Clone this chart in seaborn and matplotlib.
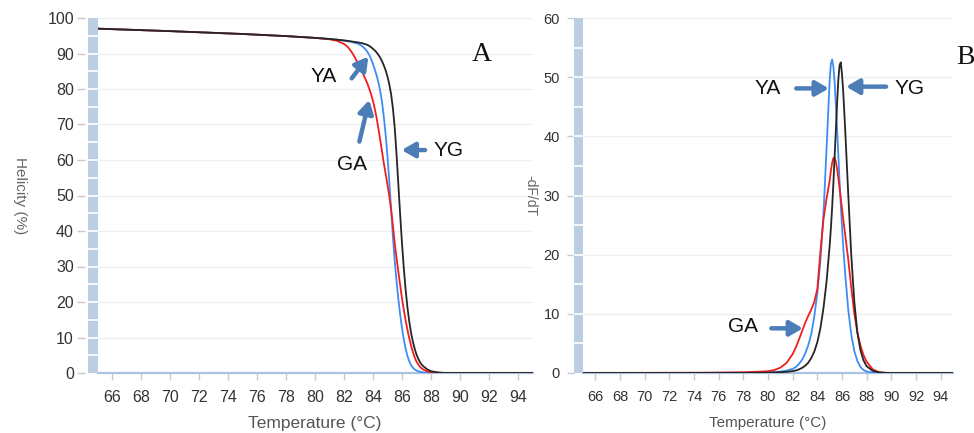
import numpy as np
import pandas as pd
import matplotlib
matplotlib.use("Agg")
import matplotlib.pyplot as plt
import matplotlib.transforms as mtransforms
from matplotlib.patches import Rectangle
import seaborn as sns

# ---------------- data ----------------
series_names = ["YA", "GA", "YG"]
series_colors = {"YA": "#3d8ef2", "GA": "#f21d1d", "YG": "#262626"}

temp_melt = [65, 70, 75, 78, 80, 81, 81.5, 82, 82.25, 82.5, 82.75, 83, 83.25,
             83.5, 83.625, 83.75, 83.875, 84, 84.125, 84.25, 84.375, 84.5, 84.625,
             84.75, 84.875, 85, 85.125, 85.25, 85.375, 85.5, 85.625, 85.75, 85.875,
             86, 86.125, 86.25, 86.375, 86.5, 86.625, 86.75, 86.875, 87, 87.125,
             87.25, 87.375, 87.5, 87.75, 88, 88.5, 89, 90, 95]
helicity_YA = [97.0, 96.3, 95.5, 94.9, 94.4, 94.1, 93.9, 93.6, 93.45, 93.3, 93.0, 92.7, 92.1,
               91.1, 90.4, 89.5, 88.4, 87.0, 85.5, 83.8, 81.8, 79.4, 76.2,
               72.0, 67.0, 61.0, 53.8, 46.0, 38.3, 31.5, 25.8, 20.8, 16.4,
               12.6, 9.4, 6.8, 4.8, 3.3, 2.2, 1.5, 1.0, 0.7, 0.5,
               0.35, 0.25, 0.15, 0.05, 0.0, 0.0, 0.0, 0.0, 0.0]
helicity_GA = [97.0, 96.3, 95.5, 94.9, 94.4, 94.0, 93.6, 92.7, 91.9, 90.6, 88.9, 86.8, 84.8,
               82.6, 81.4, 80.0, 78.4, 76.6, 74.4, 71.8, 68.8, 65.6, 62.3,
               59.0, 56.0, 53.0, 49.8, 46.0, 41.5, 36.5, 32.3, 28.5, 24.7,
               21.0, 17.8, 14.8, 12.2, 9.8, 7.7, 5.9, 4.4, 3.2, 2.4,
               1.7, 1.25, 0.9, 0.45, 0.2, 0.05, 0.0, 0.0, 0.0]
helicity_YG = [97.0, 96.3, 95.5, 94.9, 94.4, 94.1, 93.9, 93.7, 93.55, 93.4, 93.25, 93.1, 92.9,
               92.6, 92.4, 92.1, 91.75, 91.3, 90.85, 90.3, 89.6, 88.8, 87.8,
               86.6, 85.2, 83.5, 81.3, 78.5, 74.5, 69.0, 61.5, 53.0, 44.5,
               36.5, 29.5, 23.5, 18.5, 14.5, 11.3, 8.8, 6.8, 5.2, 4.0,
               3.0, 2.3, 1.8, 1.0, 0.5, 0.15, 0.0, 0.0, 0.0]

temp_deriv = [65, 75, 78, 79, 80, 80.5, 81, 81.5, 82, 82.25, 82.5, 82.75, 83, 83.25, 83.5,
              83.75, 84, 84.25, 84.5, 84.75, 85, 85.1, 85.2, 85.3, 85.4, 85.5, 85.6, 85.7,
              85.8, 85.9, 86, 86.1, 86.25, 86.5, 86.75, 87, 87.25, 87.5, 87.75, 88, 88.5,
              89, 89.5, 90, 95]
dfdt_YA = [0.0, 0.02, 0.05, 0.08, 0.12, 0.17, 0.25, 0.4, 0.7, 1.0, 1.5, 2.2, 3.2, 4.6, 6.5,
           9.5, 13.5, 19.0, 27.0, 38.0, 49.5, 52.3, 53.0, 51.8, 49.2, 45.5, 41.3, 37.0,
           32.5, 28.5, 24.8, 21.3, 17.0, 10.8, 6.5, 3.7, 2.0, 1.0, 0.5, 0.25, 0.06,
           0.0, 0.0, 0.0, 0.0]
dfdt_GA = [0.0, 0.05, 0.12, 0.2, 0.3, 0.5, 0.9, 1.7, 3.2, 4.3, 5.6, 7.0, 8.4, 9.6, 10.7,
           12.0, 14.2, 20.5, 26.0, 29.5, 32.5, 34.2, 35.5, 36.3, 36.4, 35.7, 34.5, 33.0,
           31.3, 29.5, 27.8, 26.0, 23.5, 19.3, 14.5, 10.0, 6.8, 4.6, 3.0, 1.9, 0.6,
           0.15, 0.03, 0.0, 0.0]
dfdt_YG = [0.0, 0.01, 0.02, 0.04, 0.06, 0.09, 0.13, 0.2, 0.32, 0.42, 0.6, 0.85, 1.2, 1.7,
           2.5, 3.6, 5.2, 7.6, 11.0, 15.5, 21.5, 24.5, 28.0, 32.0, 36.5, 41.0, 45.5, 49.5,
           52.0, 52.5, 50.5, 47.5, 41.5, 30.5, 20.0, 12.0, 6.8, 3.8, 2.1, 1.15, 0.35,
           0.1, 0.03, 0.0, 0.0]

x_ticks = list(range(66, 96, 2))
yticks_melt = list(range(0, 101, 10))
yticks_deriv = list(range(0, 61, 10))

melt_df = pd.DataFrame({
    "Temperature": temp_melt * 3,
    "Helicity": helicity_YA + helicity_GA + helicity_YG,
    "Sample": ["YA"] * len(temp_melt) + ["GA"] * len(temp_melt) + ["YG"] * len(temp_melt),
})
deriv_df = pd.DataFrame({
    "Temperature": temp_deriv * 3,
    "dFdT": dfdt_YA + dfdt_GA + dfdt_YG,
    "Sample": ["YA"] * len(temp_deriv) + ["GA"] * len(temp_deriv) + ["YG"] * len(temp_deriv),
})

# ---------------- style ----------------
sns.set_theme(style="white")
plt.rcParams["font.family"] = ["Liberation Sans", "DejaVu Sans"]

W, H = 974, 433
fig = plt.figure(figsize=(W / 100, H / 100), dpi=100)

def px_axes(x0, x1, y0, y1):
    return fig.add_axes([x0 / W, 1 - y1 / H, (x1 - x0) / W, (y1 - y0) / H])

axA = px_axes(97.5, 532.5, 18, 373)
axB = px_axes(583, 953, 18, 373)

BAR = "#bccfe2"
ARROW = "#4d7db7"
TICKC = "#c9c9c9"
GRID = "#efefef"

def style_axis(ax, ymax, yticks, ystep_minor, bar_px, out_pt, ticklen, pad, tick_fs):
    ax.set_xlim(65, 95)
    ax.set_ylim(0, ymax)
    ax.set_xticks(x_ticks)
    ax.set_xticklabels([str(t) for t in x_ticks])
    ax.set_yticks(yticks)
    ax.set_yticklabels([str(t) for t in yticks])
    for s in ["top", "right"]:
        ax.spines[s].set_visible(False)
    ax.spines["left"].set_position(("outward", out_pt))
    ax.spines["left"].set_color("none")
    ax.spines["bottom"].set_color("#aac3df")
    ax.spines["bottom"].set_linewidth(1.6)
    ax.tick_params(axis="y", length=ticklen, width=1.0, color=TICKC, pad=pad,
                   labelsize=tick_fs, labelcolor="#333333", direction="out", left=True)
    ax.tick_params(axis="x", length=5, width=1.0, color=TICKC, pad=7,
                   labelsize=tick_fs, labelcolor="#333333", direction="out", bottom=True)
    ax.grid(axis="y", color=GRID, linewidth=0.9)
    ax.set_axisbelow(True)
    # blue bar along the y axis
    axw = ax.get_position().width * W
    w = bar_px / axw
    trans = mtransforms.blended_transform_factory(ax.transAxes, ax.transData)
    ax.add_patch(Rectangle((-w, 0), w, ymax, transform=trans, facecolor=BAR,
                           edgecolor="none", clip_on=False, zorder=3))
    for v in np.arange(ystep_minor, ymax, ystep_minor):
        ax.plot([-w, 0], [v, v], transform=trans, color="white", lw=1.2,
                clip_on=False, zorder=4)

style_axis(axA, 100, yticks_melt, 5, 10, 9, 6, 2, 11.5)
style_axis(axB, 60, yticks_deriv, 5, 9, 6.5, 5, 5, 10.5)

sns.lineplot(data=melt_df, x="Temperature", y="Helicity", hue="Sample",
             hue_order=series_names, palette=series_colors, estimator=None,
             linewidth=1.3, legend=False, ax=axA, zorder=5)
sns.lineplot(data=deriv_df, x="Temperature", y="dFdT", hue="Sample",
             hue_order=series_names, palette=series_colors, estimator=None,
             linewidth=1.3, legend=False, ax=axB, zorder=5)

axA.set_xlabel("Temperature (°C)", fontsize=12.5, color="#555555", labelpad=8)
axB.set_xlabel("Temperature (°C)", fontsize=11, color="#555555", labelpad=9)
axA.set_ylabel("Helicity (%)", fontsize=11, color="#666666", rotation=270,
               ha="center", va="center")
axA.yaxis.set_label_coords(-0.178, 0.5)
axB.set_ylabel("-dF/dT", fontsize=10, color="#666666", rotation=270,
               ha="center", va="center")
axB.yaxis.set_label_coords(-0.143, 0.5)

# ---------------- annotations ----------------
arrow_kw = dict(arrowstyle="-|>,head_length=0.55,head_width=0.32", color=ARROW,
                lw=3.2, shrinkA=0, shrinkB=0, mutation_scale=14)
txt_kw = dict(fontsize=15, color="#111111", ha="center", va="center")

# panel A
axA.annotate("", xy=(83.68, 89.1), xytext=(82.53, 83.0), arrowprops=arrow_kw, zorder=6)
axA.annotate("", xy=(83.74, 76.9), xytext=(83.06, 65.2), arrowprops=arrow_kw, zorder=6)
axA.annotate("", xy=(85.98, 62.8), xytext=(87.59, 62.8), arrowprops=arrow_kw, zorder=6)
axA.text(80.62, 83.4, "YA", **txt_kw)
axA.text(82.55, 58.6, "GA", **txt_kw)
axA.text(89.24, 62.8, "YG", **txt_kw)
axA.text(91.5, 89.6, "A", fontsize=20, family=["Liberation Serif", "DejaVu Serif"],
         ha="center", va="center", color="#111111")

# panel B
axB.annotate("", xy=(84.93, 48.1), xytext=(82.29, 48.1), arrowprops=arrow_kw, zorder=6)
axB.annotate("", xy=(86.33, 48.4), xytext=(89.57, 48.4), arrowprops=arrow_kw, zorder=6)
axB.annotate("", xy=(82.83, 7.55), xytext=(80.27, 7.55), arrowprops=arrow_kw, zorder=6)
axB.text(79.97, 48.0, "YA", **txt_kw)
axB.text(91.5, 48.0, "YG", **txt_kw)
axB.text(78.0, 7.8, "GA", **txt_kw)
fig.text(965.5 / W, 1 - 58 / H, "B", fontsize=20, family=["Liberation Serif", "DejaVu Serif"],
         ha="center", va="center", color="#111111")

fig.savefig("out.png", dpi=100)
